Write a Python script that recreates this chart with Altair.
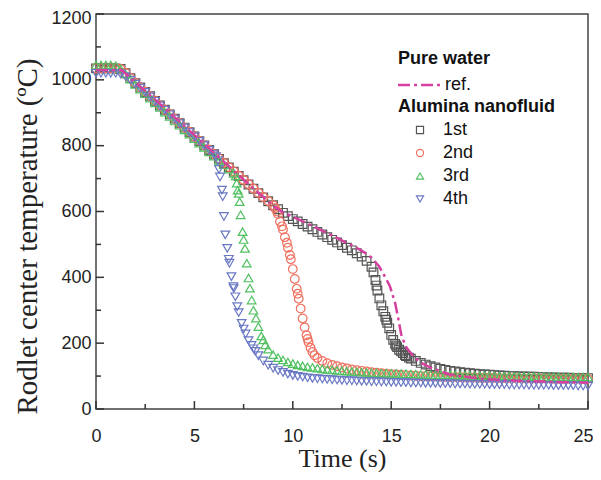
import altair as alt
import pandas as pd

# sampling clock (s) for the base readings
t_grid = [i * 0.25 for i in range(101)]

runs = ["1st", "2nd", "3rd", "4th"]
run_colors = ["#555555", "#f07060", "#50c060", "#6a78c4"]
run_shapes = ["square", "circle", "triangle-up", "triangle-down"]

T1 = [1035, 1035, 1035, 1035, 1035, 1033, 1020, 1005, 990, 977,
      963, 950, 936, 922, 909, 895, 882, 868, 855, 841,
      828, 814, 801, 787, 774, 760, 747, 734, 721, 708,
      695, 682, 669, 656, 643, 631, 619, 607, 596, 586,
      577, 570, 562, 554, 546, 538, 530, 522, 514, 506,
      498, 490, 482, 473, 463, 450, 432, 375, 315, 271,
      225, 193, 175, 161, 153, 146, 140, 135, 130, 126,
      122, 119, 116, 114, 112, 110, 109, 107, 106, 105,
      104, 103, 102, 101, 100, 100, 99, 99, 98, 98,
      97, 97, 96, 96, 95, 95, 95, 94, 94, 94,
      94]
t1_extra = [14.1, 14.2, 14.3, 14.4, 14.6, 14.7, 14.8, 14.9, 15.1, 15.2, 15.3, 15.4, 15.6, 15.7, 15.9]
T1_extra = [415, 392, 360, 336, 297, 280, 262, 245, 210, 198, 188, 180, 170, 164, 156]

T2 = [1035, 1035, 1035, 1035, 1035, 1033, 1021, 1006, 991, 977,
      964, 950, 937, 923, 909, 896, 882, 869, 855, 842,
      828, 815, 801, 788, 774, 761, 748, 735, 722, 709,
      696, 683, 670, 657, 644, 632, 619, 592, 545, 490,
      425, 350, 275, 213, 173, 155, 146, 139, 134, 130,
      126, 123, 120, 118, 116, 114, 112, 110, 109, 107,
      106, 105, 104, 103, 102, 101, 100, 100, 99, 99,
      98, 98, 97, 97, 97, 96, 96, 96, 95, 95,
      95, 95, 94, 94, 94, 94, 94, 93, 93, 93,
      93, 93, 93, 92, 92, 92, 92, 92, 92, 92,
      92]
t2_extra = [9.1, 9.2, 9.35, 9.45, 9.6, 9.7, 9.85, 9.9, 10.1, 10.2, 10.3, 10.4, 10.6, 10.7, 10.8, 10.9, 11.1]
T2_extra = [610, 600, 569, 555, 522, 505, 468, 455, 395, 365, 335, 305, 248, 224, 203, 186, 163]

T3 = [1045, 1045, 1045, 1045, 1043, 1033, 1018, 1002, 986, 972,
      958, 944, 930, 916, 902, 889, 875, 862, 848, 835,
      821, 808, 795, 781, 768, 755, 742, 729, 716, 655,
      515, 398, 300, 250, 210, 182, 165, 156, 149, 143,
      138, 134, 131, 128, 126, 124, 122, 120, 119, 117,
      116, 115, 114, 113, 112, 111, 110, 110, 109, 109,
      108, 108, 107, 107, 106, 106, 105, 105, 104, 104,
      104, 103, 103, 103, 102, 102, 102, 101, 101, 101,
      101, 100, 100, 100, 100, 99, 99, 99, 99, 99,
      98, 98, 98, 98, 98, 97, 97, 97, 97, 97,
      97]
t3_extra = [7.1, 7.15, 7.2, 7.3, 7.35, 7.45, 7.57, 7.66, 7.82, 7.91, 8.13, 8.4, 8.6]
T3_extra = [708, 686, 665, 630, 590, 539, 488, 443, 367, 331, 276, 222, 195]

T4 = [1020, 1020, 1020, 1020, 1020, 1018, 1010, 999, 987, 975,
      962, 948, 935, 921, 908, 894, 881, 867, 854, 840,
      827, 813, 800, 786, 773, 728, 585, 455, 366, 293,
      243, 208, 183, 162, 146, 133, 124, 117, 111, 106,
      102, 99, 97, 95, 93, 92, 91, 90, 89, 88,
      87, 86, 86, 85, 84, 84, 83, 83, 82, 82,
      81, 81, 80, 80, 79, 79, 79, 78, 78, 78,
      77, 77, 77, 76, 76, 76, 75, 75, 75, 75,
      74, 74, 74, 74, 73, 73, 73, 73, 72, 72,
      72, 72, 72, 71, 71, 71, 71, 71, 70, 70,
      70]
t4_extra = [6.1, 6.2, 6.3, 6.4, 6.44, 6.57, 6.67, 6.78, 6.88, 6.98, 7.08, 7.18, 7.4, 7.6, 7.9, 8.1]
T4_extra = [767, 755, 705, 665, 645, 529, 488, 443, 402, 372, 341, 311, 260, 228, 193, 175]

ref_t = [0, 1.3, 2, 3, 4, 5, 6, 7, 8, 9, 9.5, 10, 11, 12, 13, 13.5, 14, 14.4, 14.7,
         14.94, 15.2, 15.35, 15.53, 15.79, 16.2, 16.6, 17, 18, 19.5, 21.4, 23, 25]
ref_T = [1030, 1030, 992, 940, 886, 832, 778, 724, 670, 618, 597, 584, 556, 527, 497, 481, 460, 432, 400,
         372, 322, 277, 220, 185, 155, 138, 126, 104, 92, 86, 83, 80]

x_major = [0, 5, 10, 15, 20, 25]
x_minor = [2.5, 7.5, 12.5, 17.5, 22.5]
y_major = [0, 200, 400, 600, 800, 1000, 1200]
y_minor = [100, 300, 500, 700, 900, 1100]

rows = []
series = [("1st", T1, t1_extra, T1_extra), ("2nd", T2, t2_extra, T2_extra),
          ("3rd", T3, t3_extra, T3_extra), ("4th", T4, t4_extra, T4_extra)]
for name, Tb, te, Tex in series:
    pts = sorted(list(zip(t_grid, Tb)) + list(zip(te, Tex)))
    for t, T in pts:
        rows.append({"time": t, "temp": T, "run": name})
df = pd.DataFrame(rows)
ref_df = pd.DataFrame({"time": ref_t, "temp": ref_T, "water": ["ref."] * len(ref_t)})

W, H = 492, 395
SANS = "Liberation Sans"
SERIF = "Liberation Serif"
xscale = alt.Scale(domain=[0, 25], nice=False)
yscale = alt.Scale(domain=[0, 1200], nice=False)

x_axis = alt.Axis(values=x_major, ticks=False, domain=False, grid=False, labelFont=SANS,
                  labelFontSize=18, labelColor="#222", labelPadding=18, title="Time (s)",
                  titleFont=SERIF, titleFontSize=26, titleFontWeight="normal", titleColor="#222",
                  titlePadding=0, labelFlush=False, format="d",
                  labelAlign={"condition": {"test": "datum.value === 25", "value": "right"},
                              "value": "center"},
                  labelOffset={"condition": {"test": "datum.value === 25", "value": 5},
                               "value": 0})
y_axis = alt.Axis(values=y_major, ticks=False, domain=False, grid=False, labelFont=SANS,
                  labelFontSize=18, labelColor="#222", labelPadding=5, format="d",
                  labelFlush=False,
                  labelOffset={"condition": {"test": "datum.value === 1200", "value": 4},
                               "value": 0},
                  title="Rodlet center temperature  (ºC)", titleFont=SERIF, titleFontSize=29,
                  titleFontWeight="normal", titleColor="#222", titlePadding=8, titleY=222)

legend_common = dict(orient="none", padding=0, titleFont=SANS, titleFontSize=18,
                     titleFontWeight="bold", titleColor="#111", labelFont=SANS,
                     labelFontSize=18, labelColor="#111", titlePadding=5, rowPadding=5)

pt_legend = dict(title="Alumina nanofluid", legendX=302, legendY=84, symbolSize=50,
                 symbolStrokeWidth=1.2, symbolOffset=13, labelOffset=14, **legend_common)

points = alt.Chart(df).mark_point(filled=False, strokeWidth=1.2, size=75, opacity=1).encode(
    x=alt.X("time:Q", scale=xscale, axis=x_axis),
    y=alt.Y("temp:Q", scale=yscale, axis=y_axis),
    color=alt.Color("run:N", scale=alt.Scale(domain=runs, range=run_colors),
                    legend=alt.Legend(**pt_legend)),
    shape=alt.Shape("run:N", scale=alt.Scale(domain=runs, range=run_shapes),
                    legend=alt.Legend(**pt_legend)),
)

ref_line = alt.Chart(ref_df).mark_line(color="#d6419f", strokeWidth=2.5).encode(
    x=alt.X("time:Q", scale=xscale),
    y=alt.Y("temp:Q", scale=yscale),
    strokeDash=alt.StrokeDash("water:N", scale=alt.Scale(domain=["ref."], range=[[12, 4, 3, 4]]),
                              legend=alt.Legend(title="Pure water", legendX=302, legendY=36,
                                                symbolType="M-2,0H2", symbolSize=441,
                                                symbolStrokeWidth=2.5, symbolOffset=9,
                                                symbolStrokeColor="#d6419f",
                                                labelOffset=14, **legend_common)),
)

tick_color = "#333"
xt_major = alt.Chart(pd.DataFrame({"time": x_major})).mark_tick(
    color=tick_color, thickness=1.5, size=8, opacity=1).encode(
    x=alt.X("time:Q", scale=xscale), y=alt.value(H - 4))
xt_minor = alt.Chart(pd.DataFrame({"time": x_minor})).mark_tick(
    color=tick_color, thickness=1.5, size=5, opacity=1).encode(
    x=alt.X("time:Q", scale=xscale), y=alt.value(H - 2.5))
yt_major = alt.Chart(pd.DataFrame({"temp": y_major})).mark_tick(
    color=tick_color, thickness=1.5, size=8, opacity=1).encode(
    y=alt.Y("temp:Q", scale=yscale), x=alt.value(4))
yt_minor = alt.Chart(pd.DataFrame({"temp": y_minor})).mark_tick(
    color=tick_color, thickness=1.5, size=5, opacity=1).encode(
    y=alt.Y("temp:Q", scale=yscale), x=alt.value(2.5))

chart = alt.layer(points, ref_line, xt_major, xt_minor, yt_major, yt_minor).properties(
    width=W, height=H,
    autosize=alt.AutoSizeParams(type="none"),
    padding={"left": 88, "top": 6, "right": 5, "bottom": 63},
    background="white",
).configure_view(stroke="#444", strokeWidth=1.5)

chart.save("out.html", embed_options={"renderer": "svg", "actions": False})
